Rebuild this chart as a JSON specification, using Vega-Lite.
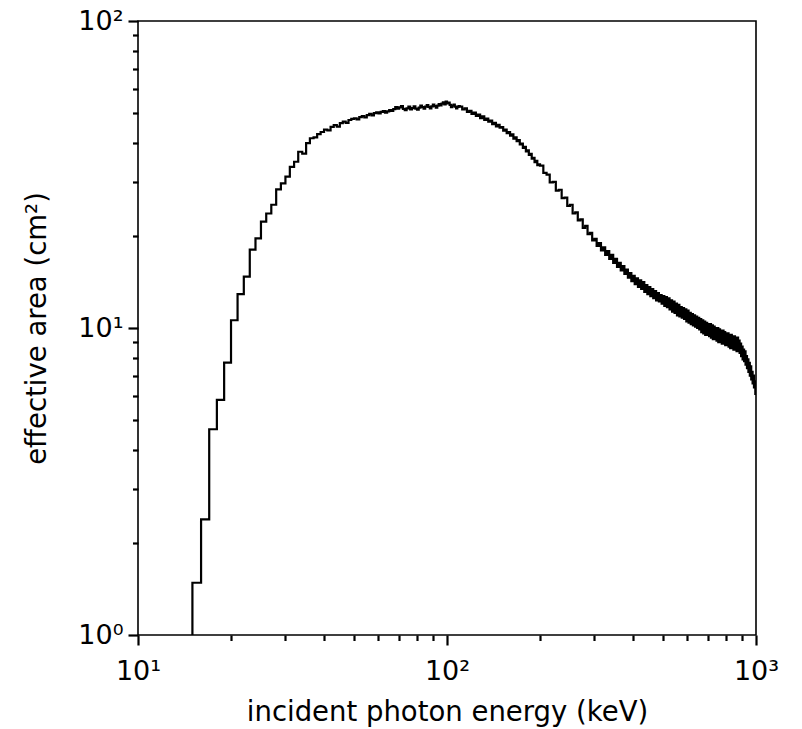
{
  "$schema": "https://vega.github.io/schema/vega-lite/v6.json",
  "autosize": "none",
  "width": 618,
  "height": 614,
  "padding": {"left": 138, "top": 21, "right": 46, "bottom": 94},
  "background": "white",
  "config": {
    "view": {"stroke": "black", "strokeWidth": 1.6}
  },
  "data": {"values": [
    {"E":14,"A":0.5},
    {"E":15,"A":1.48},{"E":16,"A":2.38},{"E":17,"A":4.68},{"E":18,"A":5.83},{"E":19,"A":7.71},
    {"E":20,"A":10.6},{"E":21,"A":12.9},{"E":22,"A":14.7},{"E":23,"A":18.0},{"E":24,"A":19.6},
    {"E":25,"A":22.2},{"E":26,"A":23.6},{"E":27,"A":25.2},{"E":28,"A":28.3},{"E":29,"A":29.6},
    {"E":30,"A":31.1},{"E":31,"A":33.5},{"E":32,"A":34.8},{"E":33,"A":37.5},{"E":34,"A":37.0},
    {"E":35,"A":40.0},{"E":36,"A":41.5},{"E":37,"A":41.8},{"E":38,"A":42.8},{"E":39,"A":43.5},
    {"E":40,"A":44.3},{"E":41,"A":44.0},{"E":42,"A":45.2},{"E":43,"A":45.8},{"E":44,"A":45.3},
    {"E":45,"A":46.5},{"E":46,"A":47.0},{"E":47,"A":46.6},{"E":48,"A":47.6},{"E":49,"A":48.0},
    {"E":50,"A":48.2},{"E":51,"A":47.8},{"E":52,"A":48.6},{"E":53,"A":49.0},{"E":54,"A":48.5},
    {"E":55,"A":49.4},{"E":56,"A":49.8},{"E":57,"A":49.3},{"E":58,"A":50.1},{"E":59,"A":50.4},
    {"E":60,"A":50.0},{"E":61,"A":50.6},{"E":62,"A":50.9},{"E":63,"A":50.3},{"E":64,"A":50.8},
    {"E":65,"A":51.3},{"E":66,"A":51.0},{"E":67,"A":51.6},{"E":68,"A":52.4},{"E":69,"A":51.8},
    {"E":70,"A":52.3},{"E":71,"A":52.8},{"E":72,"A":51.7},{"E":73,"A":51.2},{"E":74,"A":51.9},
    {"E":75,"A":52.6},{"E":76,"A":51.5},{"E":77,"A":52.0},{"E":78,"A":52.7},{"E":79,"A":51.8},
    {"E":80,"A":51.4},{"E":81,"A":52.2},{"E":82,"A":53.0},{"E":83,"A":52.4},{"E":84,"A":51.8},
    {"E":85,"A":52.6},{"E":86,"A":53.2},{"E":87,"A":52.5},{"E":88,"A":51.9},{"E":89,"A":52.7},
    {"E":90,"A":53.4},{"E":91,"A":52.8},{"E":92,"A":52.2},{"E":93,"A":53.0},{"E":94,"A":53.6},
    {"E":95,"A":53.1},{"E":96,"A":53.8},{"E":97,"A":54.3},{"E":98,"A":53.5},{"E":99,"A":54.6},
    {"E":100,"A":53.9},{"E":101,"A":54.2},{"E":102,"A":53.3},{"E":103,"A":52.4},{"E":104,"A":53.0},
    {"E":105,"A":53.4},{"E":106,"A":52.6},{"E":107,"A":51.9},{"E":108,"A":52.5},{"E":109,"A":52.8},
    {"E":110,"A":52.6},{"E":112,"A":51.5},{"E":114,"A":51.9},{"E":116,"A":50.6},{"E":118,"A":51.0},
    {"E":120,"A":49.8},{"E":122,"A":50.3},{"E":124,"A":49.1},{"E":126,"A":49.6},{"E":128,"A":48.3},
    {"E":130,"A":48.9},{"E":132,"A":47.6},{"E":134,"A":48.1},{"E":136,"A":47.0},{"E":138,"A":47.4},
    {"E":140,"A":46.1},{"E":142,"A":46.6},{"E":144,"A":45.4},{"E":146,"A":45.9},{"E":148,"A":44.9},
    {"E":150,"A":45.1},{"E":152,"A":43.9},{"E":154,"A":44.3},{"E":156,"A":43.1},{"E":158,"A":43.5},
    {"E":160,"A":42.3},{"E":162,"A":42.7},{"E":164,"A":41.4},{"E":166,"A":41.8},{"E":168,"A":40.6},
    {"E":170,"A":40.9},{"E":172,"A":39.6},{"E":174,"A":39.9},{"E":176,"A":38.6},{"E":178,"A":38.9},
    {"E":180,"A":37.6},{"E":182,"A":37.9},{"E":184,"A":36.6},{"E":186,"A":36.9},{"E":188,"A":35.6},
    {"E":190,"A":35.8},{"E":192,"A":34.7},{"E":194,"A":35.0},{"E":196,"A":33.9},{"E":198,"A":34.1},
    {"E":200,"A":33.8},{"E":205,"A":32.0},{"E":210,"A":31.6},{"E":215,"A":29.8},{"E":220,"A":29.9},
    {"E":225,"A":28.0},{"E":230,"A":28.2},{"E":235,"A":26.5},{"E":240,"A":26.6},{"E":245,"A":25.0},
    {"E":250,"A":25.2},{"E":255,"A":23.6},{"E":260,"A":23.8},{"E":265,"A":22.4},{"E":270,"A":22.6},
    {"E":275,"A":21.2},{"E":280,"A":21.5},{"E":285,"A":20.2},{"E":290,"A":20.4},{"E":295,"A":19.3},
    {"E":300,"A":19.5},{"E":305,"A":18.5},{"E":310,"A":18.9},{"E":315,"A":17.9},{"E":320,"A":18.3},
    {"E":325,"A":17.3},{"E":330,"A":17.8},{"E":335,"A":16.8},{"E":340,"A":17.3},{"E":345,"A":16.3},
    {"E":350,"A":16.8},{"E":355,"A":15.8},{"E":360,"A":16.3},{"E":365,"A":15.4},{"E":370,"A":15.9},
    {"E":375,"A":15.0},{"E":380,"A":15.5},{"E":385,"A":14.6},{"E":390,"A":15.1},{"E":395,"A":14.2},
    {"E":400,"A":14.8},{"E":405,"A":13.9},{"E":410,"A":14.5},{"E":415,"A":13.6},{"E":420,"A":14.3},
    {"E":425,"A":13.4},{"E":430,"A":14.1},{"E":435,"A":13.1},{"E":440,"A":13.8},{"E":445,"A":12.9},
    {"E":450,"A":13.6},{"E":455,"A":12.7},{"E":460,"A":13.4},{"E":465,"A":12.5},{"E":470,"A":13.2},
    {"E":475,"A":12.3},{"E":480,"A":13.0},{"E":485,"A":12.2},{"E":490,"A":12.8},{"E":495,"A":12.0},
    {"E":500,"A":12.7},{"E":505,"A":11.8},{"E":510,"A":12.6},{"E":515,"A":11.7},{"E":520,"A":12.5},
    {"E":525,"A":11.5},{"E":530,"A":12.3},{"E":535,"A":11.3},{"E":540,"A":12.2},{"E":545,"A":11.2},
    {"E":550,"A":12.0},{"E":555,"A":11.0},{"E":560,"A":11.9},{"E":565,"A":10.9},{"E":570,"A":11.7},
    {"E":575,"A":10.8},{"E":580,"A":11.6},{"E":585,"A":10.7},{"E":590,"A":11.5},{"E":595,"A":10.5},
    {"E":600,"A":11.4},{"E":605,"A":10.4},{"E":610,"A":11.2},{"E":615,"A":10.3},{"E":620,"A":11.1},
    {"E":625,"A":10.2},{"E":630,"A":11.0},{"E":635,"A":10.1},{"E":640,"A":10.9},{"E":645,"A":10.0},
    {"E":650,"A":10.8},{"E":655,"A":9.9},{"E":660,"A":10.7},{"E":665,"A":9.7},{"E":670,"A":10.6},
    {"E":675,"A":9.6},{"E":680,"A":10.5},{"E":685,"A":9.5},{"E":690,"A":10.4},{"E":695,"A":9.5},
    {"E":700,"A":10.3},{"E":705,"A":9.4},{"E":710,"A":10.3},{"E":715,"A":9.3},{"E":720,"A":10.2},
    {"E":725,"A":9.2},{"E":730,"A":10.1},{"E":735,"A":9.2},{"E":740,"A":10.0},{"E":745,"A":9.1},
    {"E":750,"A":10.0},{"E":755,"A":9.0},{"E":760,"A":9.9},{"E":765,"A":9.0},{"E":770,"A":9.8},
    {"E":775,"A":8.9},{"E":780,"A":9.8},{"E":785,"A":8.9},{"E":790,"A":9.7},{"E":795,"A":8.8},
    {"E":800,"A":9.6},{"E":805,"A":8.8},{"E":810,"A":9.6},{"E":815,"A":8.7},{"E":820,"A":9.5},
    {"E":825,"A":8.6},{"E":830,"A":9.5},{"E":835,"A":8.6},{"E":840,"A":9.4},{"E":845,"A":8.5},
    {"E":850,"A":9.4},{"E":855,"A":8.5},{"E":860,"A":9.3},{"E":865,"A":8.4},{"E":870,"A":9.3},
    {"E":875,"A":8.4},{"E":880,"A":9.1},{"E":885,"A":8.3},{"E":890,"A":8.9},{"E":895,"A":8.1},
    {"E":900,"A":8.7},{"E":905,"A":7.9},{"E":910,"A":8.5},{"E":915,"A":7.8},{"E":920,"A":8.4},
    {"E":925,"A":7.6},{"E":930,"A":8.1},{"E":935,"A":7.4},{"E":940,"A":7.9},{"E":945,"A":7.2},
    {"E":950,"A":7.7},{"E":955,"A":7.0},{"E":960,"A":7.5},{"E":965,"A":6.8},{"E":970,"A":7.2},
    {"E":975,"A":6.6},{"E":980,"A":7.0},{"E":985,"A":6.4},{"E":990,"A":6.7},{"E":995,"A":6.1},
    {"E":1000,"A":6.3}
  ]},
  "mark": {"type": "line", "interpolate": "step-after", "color": "black", "strokeWidth": 2.2, "clip": true},
  "encoding": {
    "x": {
      "field": "E", "type": "quantitative",
      "scale": {"type": "log", "domain": [10, 1000], "nice": false},
      "axis": {
        "values": [10, 20, 30, 40, 50, 60, 70, 80, 90, 100, 200, 300, 400, 500, 600, 700, 800, 900, 1000],
        "gridOpacity": 0,
        "domain": false,
        "tickSize": {"condition": {"test": "datum.value == 10 || datum.value == 100 || datum.value == 1000", "value": 10}, "value": 5.5},
        "tickWidth": 2.2, "tickColor": "#000000",
        "labelFont": "DejaVu Sans", "labelFontSize": 27, "labelColor": "black",
        "labelPadding": 13,
        "labelFlush": false,
        "labelExpr": "datum.value == 10 ? '10¹' : datum.value == 100 ? '10²' : datum.value == 1000 ? '10³' : ''",
        "title": "incident photon energy (keV)", "titlePadding": 14,
        "titleFont": "DejaVu Sans", "titleFontSize": 27.5, "titleFontWeight": "normal", "titleColor": "black"
      }
    },
    "y": {
      "field": "A", "type": "quantitative",
      "scale": {"type": "log", "domain": [1, 100], "nice": false},
      "axis": {
        "values": [1, 2, 3, 4, 5, 6, 7, 8, 9, 10, 20, 30, 40, 50, 60, 70, 80, 90, 100],
        "gridOpacity": 0,
        "domain": false,
        "tickSize": {"condition": {"test": "datum.value == 1 || datum.value == 10 || datum.value == 100", "value": 10}, "value": 5.5},
        "tickWidth": 2.2, "tickColor": "#000000",
        "labelFont": "DejaVu Sans", "labelFontSize": 27, "labelColor": "black",
        "labelPadding": 5,
        "labelFlush": false,
        "labelExpr": "datum.value == 1 ? '10⁰' : datum.value == 10 ? '10¹' : datum.value == 100 ? '10²' : ''",
        "title": "effective area (cm²)", "titlePadding": 26,
        "titleFont": "DejaVu Sans", "titleFontSize": 27.5, "titleFontWeight": "normal", "titleColor": "black"
      }
    }
  }
}
